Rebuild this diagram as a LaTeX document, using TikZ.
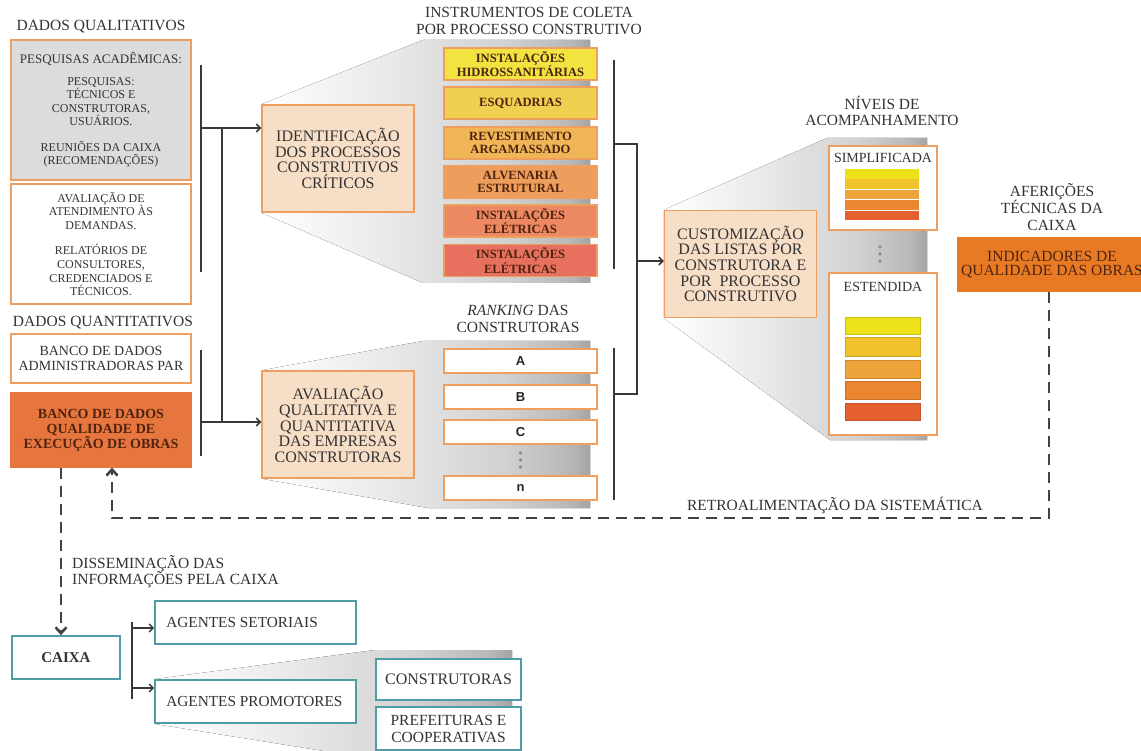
\documentclass[tikz,border=0pt]{standalone}
\usepackage{fontspec}
\setmainfont{Liberation Serif}
\newfontfamily\arialf{Liberation Sans}
\usetikzlibrary{arrows.meta}
\definecolor{txt}{HTML}{333333}
\definecolor{obord}{HTML}{EE9E5E}
\definecolor{peach}{HTML}{F7DEC7}
\definecolor{graybox}{HTML}{DCDCDC}
\definecolor{orng}{HTML}{E7763E}
\definecolor{orng2}{HTML}{E97A24}
\definecolor{brn}{HTML}{4E2410}
\definecolor{tealb}{HTML}{4F9CA6}
\definecolor{ln}{HTML}{383838}
\definecolor{ic1}{HTML}{F2E340}
\definecolor{ic2}{HTML}{F1CF50}
\definecolor{ic3}{HTML}{EFB556}
\definecolor{ic4}{HTML}{EE9E5C}
\definecolor{ic5}{HTML}{EC8862}
\definecolor{ic6}{HTML}{E8705E}
\definecolor{sc1}{HTML}{EDE118}
\definecolor{sc2}{HTML}{F0C22C}
\definecolor{sc3}{HTML}{EEA43A}
\definecolor{sc4}{HTML}{EA8530}
\definecolor{sc5}{HTML}{E4602C}
\pgfdeclarehorizontalshading{panelsh}{100bp}{color(0bp)=(white); color(25bp)=(white); color(45bp)=(black!9); color(62bp)=(black!18); color(72bp)=(black!28); color(75bp)=(black!36); color(100bp)=(black!36)}
\tikzset{
  hd/.style={text=txt, align=center, inner sep=0pt, font=\fontsize{15.5}{16.5}\selectfont},
  obox/.style={draw=obord, line width=1.3pt, inner sep=0pt, align=center, text=txt},
  pbox/.style={obox, fill=peach, minimum width=152, minimum height=107, font=\fontsize{16}{15.6}\selectfont},
  ibox/.style={draw=obord, line width=1.1pt, minimum width=153, minimum height=32, inner sep=0pt, align=center, text=brn, font=\bfseries\fontsize{12.6}{12.8}\selectfont},
  rbox/.style={draw=obord, line width=1.1pt, fill=white, minimum width=153, minimum height=24, inner sep=0pt, text=black!85, font=\arialf\bfseries\fontsize{13}{13}\selectfont},
  tbox/.style={draw=tealb, line width=1.6pt, fill=white, inner sep=0pt, text=txt},
  bar/.style={draw=ln, line width=1.7pt},
  arr/.style={draw=ln, line width=1.5pt, -{Straight Barb[length=4pt,width=8pt]}},
  dsh/.style={draw=ln!95, line width=2.6pt, dash pattern=on 11pt off 7pt},
  arrD/.style={-{Straight Barb[length=6pt,width=11pt]}},
  panel/.style={shading=panelsh},
  dotc/.style={fill=black!45, draw=none}
}
\begin{document}
\begin{tikzpicture}[x=1pt,y=-1pt]
\clip (0,0) rectangle (1141,751);
\fill[white] (0,0) rectangle (1141,751);

% ---------- left data boxes ----------
\node[hd] (hq) at (101,27) {DADOS QUALITATIVOS};
\node[obox, fill=graybox, minimum width=180, minimum height=140, font=\fontsize{12}{13.5}\selectfont] (b1) at (101,110)
 {{\fontsize{13}{13.5}\selectfont PESQUISAS ACADÊMICAS:}\\[8pt]PESQUISAS:\\TÉCNICOS E\\CONSTRUTORAS,\\USUÁRIOS.\\[12pt]REUNIÕES DA CAIXA\\(RECOMENDAÇÕES)};
\node[obox, fill=white, minimum width=180, minimum height=120, font=\fontsize{12}{13.8}\selectfont] (b2) at (101,244)
 {AVALIAÇÃO DE\\ATENDIMENTO ÀS\\DEMANDAS.\\[11pt]RELATÓRIOS DE\\CONSULTORES,\\CREDENCIADOS E\\TÉCNICOS.};
\node[hd] (hn) at (103,323) {DADOS QUANTITATIVOS};
\node[obox, fill=white, minimum width=180, minimum height=49, font=\fontsize{14}{15}\selectfont] (b3) at (101,358.5)
 {BANCO DE DADOS\\ADMINISTRADORAS PAR};
\node[obox, draw=orng, fill=orng, text=brn, minimum width=180, minimum height=74, font=\bfseries\fontsize{14}{15}\selectfont] (b4) at (101,430)
 {BANCO DE DADOS\\QUALIDADE DE\\EXECUÇÃO DE OBRAS};

% ---------- panels (funnels) ----------
\node[pbox, draw=none, fill=none] (identg) at (338,158.5) {};
\fill[panel] (identg.north west) -- (423,40) -- (590,40) -- (590,283) -- (423,283) -- (identg.south west) -- cycle;
\node[pbox, draw=none, fill=none] (avalg) at (338,424.5) {};
\fill[panel] (avalg.north west) -- (423,341) -- (590,341) -- (590,508) -- (428,508) -- (avalg.south west) -- cycle;
\node[pbox, draw=none, fill=none] (custg) at (740.5,264) {};
\fill[panel] (custg.north west) -- (827,138) -- (927,138) -- (927,440) -- (830,440) -- (custg.south west) -- cycle;
\node[tbox, draw=none, fill=none, minimum width=201, minimum height=43] (promog) at (255.5,701.5) {};
\fill[panel] (promog.north west) -- (375,650) -- (512,650) -- (512,760) -- (380,760) -- (promog.south west) -- cycle;

% ---------- process boxes ----------
\node[pbox] (ident) at (338,158.5) {IDENTIFICAÇÃO\\DOS PROCESSOS\\CONSTRUTIVOS\\CRÍTICOS};
\node[pbox] (aval) at (338,424.5) {AVALIAÇÃO\\QUALITATIVA E\\QUANTITATIVA\\DAS EMPRESAS\\CONSTRUTORAS};

\node[hd] (hi) at (529,21) {INSTRUMENTOS DE COLETA\\POR PROCESSO CONSTRUTIVO};
\node[ibox, fill=ic1] (i1) at (520.5,64) {INSTALAÇÕES\\HIDROSSANITÁRIAS};
\node[ibox, fill=ic2] (i2) at (520.5,103) {ESQUADRIAS};
\node[ibox, fill=ic3] (i3) at (520.5,143) {REVESTIMENTO\\ARGAMASSADO};
\node[ibox, fill=ic4] (i4) at (520.5,182) {ALVENARIA\\ESTRUTURAL};
\node[ibox, fill=ic5] (i5) at (520.5,221) {INSTALAÇÕES\\ELÉTRICAS};
\node[ibox, fill=ic6] (i6) at (520.5,260.5) {INSTALAÇÕES\\ELÉTRICAS};

\node[hd] (hr) at (518,319) {\textit{RANKING} DAS\\CONSTRUTORAS};
\node[rbox] (ra) at (520.5,361) {A};
\node[rbox] (rb) at (520.5,397) {B};
\node[rbox] (rc) at (520.5,432) {C};
\node[rbox] (rn) at (520.5,488) {n};
\fill[dotc] (520.5,453) circle (1.8);
\fill[dotc] (520.5,460) circle (1.8);
\fill[dotc] (520.5,467) circle (1.8);

% ---------- left connectors ----------
\coordinate (qbt) at (201,65); \coordinate (qbb) at (201,272);
\draw[bar] (qbt) -- (qbb);
\coordinate (nbt) at (201,350); \coordinate (nbb) at (201,456);
\draw[bar] (nbt) -- (nbb);
\coordinate (qj) at (201,128); \coordinate (nj) at (201,422);
\coordinate (v1) at (222,128); \coordinate (v2) at (222,422);
\draw[bar] (v1) -- (v2);
\draw[arr] (qj) -- (qj -| ident.west);
\draw[arr] (nj) -- (nj -| aval.west);

% ---------- right connectors ----------
\coordinate (ibt) at (614,60); \coordinate (ibb) at (614,269);
\coordinate (rbt) at (614,348); \coordinate (rbb) at (614,500);
\draw[bar] (ibt) -- (ibb);
\draw[bar] (rbt) -- (rbb);
\coordinate (ij) at (614,144); \coordinate (jx1) at (637,144);
\coordinate (jx2) at (637,394); \coordinate (rj) at (614,394);
\draw[bar] (ij) -- (jx1) -- (jx2) -- (rj);
\coordinate (ja) at (637,261);

\node[pbox] (cust) at (740.5,264) {CUSTOMIZAÇÃO\\DAS LISTAS POR\\CONSTRUTORA E\\POR\ \ PROCESSO\\CONSTRUTIVO};
\draw[arr] (ja) -- (ja -| cust.west);

% ---------- levels ----------
\node[hd] (hv) at (882,111) {NÍVEIS DE\\ACOMPANHAMENTO};
\node[obox, fill=white, minimum width=108, minimum height=84] (simp) at (883,188) {};
\node[text=txt, inner sep=0pt, font=\fontsize{14}{14}\selectfont] (simpt) at (883,158) {SIMPLIFICADA};
\foreach \c [count=\k] in {sc1,sc2,sc3,sc4,sc5}{
  \fill[\c] (845,{169+(\k-1)*10.4}) rectangle (919,{169+\k*10.4-0.7});
}
\fill[dotc] (880,247) circle (1.8);
\fill[dotc] (880,254) circle (1.8);
\fill[dotc] (880,261) circle (1.8);
\node[obox, fill=white, minimum width=108, minimum height=162] (est) at (883,354) {};
\node[text=txt, inner sep=0pt, font=\fontsize{14}{14}\selectfont] (estt) at (883,287) {ESTENDIDA};
\fill[sc1, draw=sc1!85!black, line width=0.5pt] (845,317) rectangle (920,334);
\fill[sc2, draw=sc2!85!black, line width=0.5pt] (845,337) rectangle (920,356);
\fill[sc3, draw=sc3!85!black, line width=0.5pt] (845,360) rectangle (920,378);
\fill[sc4, draw=sc4!85!black, line width=0.5pt] (845,381) rectangle (920,399);
\fill[sc5, draw=sc5!85!black, line width=0.5pt] (845,403) rectangle (920,420);

% ---------- indicators ----------
\node[hd] (haf) at (1052,207) {AFERIÇÕES\\TÉCNICAS DA\\CAIXA};
\node[fill=orng2, text=brn, minimum width=190, minimum height=55, inner sep=0pt, align=center, font=\fontsize{15.5}{14.5}\selectfont] (ind) at (1052,264.5) {INDICADORES DE\\QUALIDADE DAS OBRAS};

% ---------- feedback ----------
\coordinate (f1) at (1049,518); \coordinate (f2) at (112,518);
\draw[dsh, arrD] (ind.south -| f1) -- (f1) -- (f2) -- (b4.south -| f2);
\node[hd] (hret) at (835,505) {RETROALIMENTAÇÃO DA SISTEMÁTICA};

% ---------- dissemination ----------
\node[tbox, minimum width=108, minimum height=43, font=\bfseries\fontsize{15}{15}\selectfont] (caixa) at (66,657.5) {CAIXA};
\coordinate (dx) at (61,600);
\draw[dsh, arrD] (b4.south -| dx) -- (caixa.north -| dx);
\node[hd, anchor=west, align=left] (hdis) at (72,571.5) {DISSEMINAÇÃO DAS\\INFORMAÇÕES PELA CAIXA};

\node[tbox, minimum width=201, minimum height=43, font=\fontsize{15.3}{15.3}\selectfont] (setor) at (255.5,622.5) {};
\node[text=txt, anchor=west, inner sep=0pt, font=\fontsize{15.3}{15.3}\selectfont] (setort) at ([xshift=12pt]setor.west) {AGENTES SETORIAIS};
\node[tbox, minimum width=201, minimum height=43, font=\fontsize{15.3}{15.3}\selectfont] (promo) at (255.5,701.5) {};
\node[text=txt, anchor=west, inner sep=0pt, font=\fontsize{15.3}{15.3}\selectfont] (promot) at ([xshift=12pt]promo.west) {AGENTES PROMOTORES};
\coordinate (bt) at (132,622); \coordinate (bb) at (132,699);
\draw[bar] (bt) -- (bb);
\coordinate (ba1) at (132,628); \coordinate (ba2) at (132,688);
\draw[arr] (ba1) -- (ba1 -| setor.west);
\draw[arr] (ba2) -- (ba2 -| promo.west);

\node[tbox, minimum width=145, minimum height=41, font=\fontsize{16}{16}\selectfont] (constr) at (448.5,679.5) {CONSTRUTORAS};
\node[tbox, minimum width=145, minimum height=43, align=center, font=\fontsize{15.5}{17}\selectfont] (pref) at (448.5,728.5) {PREFEITURAS E\\COOPERATIVAS};
\end{tikzpicture}
\end{document}
